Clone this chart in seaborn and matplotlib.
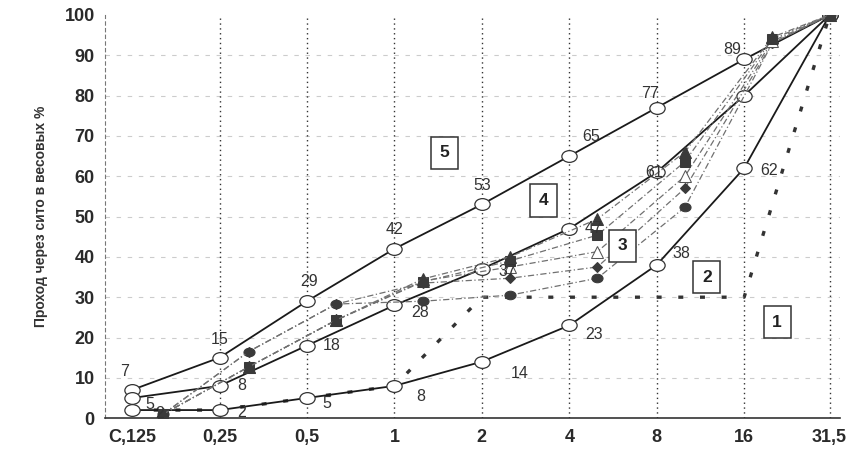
import matplotlib
matplotlib.use("Agg")

import matplotlib.pyplot as plt
from matplotlib.path import Path
from matplotlib.transforms import Affine2D
import seaborn as sns
import pandas as pd

# -----------------------------
# DATA
# -----------------------------
sieve_std = [0.125, 0.25, 0.5, 1, 2, 4, 8, 16, 31.5]
tick_labels = ["C,125", "0,25", "0,5", "1", "2", "4", "8", "16", "31,5"]

curve_upper = [7, 15, 29, 42, 53, 65, 77, 89, 100]
curve_middle = [5, 8, 18, 28, 37, 47, 61, 80, 100]
curve_lower = [2, 2, 5, 8, 14, 23, 38, 62, 100]
curve_one = [2, 2, 5, 8, 30, 30, 30, 30, 100]

sieve_exp = [0.16, 0.315, 0.63, 1.25, 2.5, 5, 10, 20, 31.5]
exp_circle = [1, 16.5, 28.3, 29, 30.5, 34.7, 52.3, 93, 100]
exp_diamond = [1, 16.5, 28.3, 33.5, 34.7, 37.5, 57, 93, 100]
exp_open_tri = [1, 12.7, 24.3, 34, 37.5, 41.3, 60, 93.5, 100]
exp_square = [1, 12.7, 24.3, 33.8, 39, 45.4, 63.6, 94, 100]
exp_tri = [1, 12.7, 24.3, 34.5, 40, 49.4, 66, 94.5, 100]

zone_labels = ["5", "4", "3", "2", "1"]
zone_x = [1.49, 3.25, 6.1, 11.9, 20.8]
zone_y = [65.8, 54, 42.7, 35, 23.8]

ylabel = "Проход через сито в весовых %"

# -----------------------------
# PLOT
# -----------------------------
sns.set_style("white")
plt.rcParams["font.family"] = ["Liberation Sans", "DejaVu Sans"]

# slightly flattened circle, like the scanned markers
ellipse = Path.unit_circle().transformed(Affine2D().scale(1.3, 1.0))

fig = plt.figure(figsize=(8.55, 4.54), dpi=100)
ax = fig.add_axes([0.123, 0.079, 0.859, 0.888])

# curve 1 (thick dashes)
df1 = pd.DataFrame({"x": sieve_std, "y": curve_one})
sns.lineplot(data=df1, x="x", y="y", ax=ax, color="#333333", lw=2.4,
             linestyle=(0, (1.5, 5)), zorder=2)

# envelope curves
for vals in [curve_upper, curve_middle, curve_lower]:
    df = pd.DataFrame({"x": sieve_std, "y": vals})
    sns.lineplot(data=df, x="x", y="y", ax=ax, color="#1a1a1a", lw=1.3,
                 marker=ellipse, markersize=11, markerfacecolor="white",
                 markeredgecolor="#333333", markeredgewidth=0.9, zorder=4)

# experimental curves (thin dash-dot), drawn over the envelopes
exp_series = [
    (exp_circle, ellipse, 8, "#3a3a3a", "#3a3a3a"),
    (exp_diamond, "D", 5.5, "#3a3a3a", "#3a3a3a"),
    (exp_open_tri, "^", 8, "white", "#555555"),
    (exp_square, "s", 7.5, "#3a3a3a", "#3a3a3a"),
    (exp_tri, "^", 8, "#3a3a3a", "#3a3a3a"),
]
for vals, mk, ms, fc, ec in exp_series:
    df = pd.DataFrame({"x": sieve_exp, "y": vals})
    sns.lineplot(data=df, x="x", y="y", ax=ax, color="#707070", lw=0.9,
                 linestyle=(0, (5, 2, 1, 2)), marker=mk, markersize=ms,
                 markerfacecolor=fc, markeredgecolor=ec, zorder=5)

# point labels (offsets in pixels)
upper_off = [(-7, 18), (0, 18), (2, 20), (0, 19), (0, 19), (22, 20), (-7, 14), (-12, 10)]
middle_off = [(18, -7), (22, 0), (25, 0), (26, -7), (26, -3), (24, 0), (-3, 0)]
lower_off = [(28, -3), (22, -2), (20, -6), (26, -11), (38, -12), (25, -9), (25, 11), (25, -2)]
for vals, offs in [(curve_upper, upper_off), (curve_middle, middle_off), (curve_lower, lower_off)]:
    for x, y, off in zip(sieve_std, vals, offs):
        ax.annotate(str(y), (x, y), xytext=off, textcoords="offset pixels",
                    ha="center", va="center", fontsize=11.5, color="#333333", zorder=6)

# zone boxes
for t, x, y in zip(zone_labels, zone_x, zone_y):
    ax.text(x, y, t, ha="center", va="center", fontsize=12.5, fontweight="bold",
            color="#222222", zorder=7,
            bbox=dict(boxstyle="square,pad=0.5", fc="white", ec="#333333", lw=1.1))

ax.set_xscale("log", base=2)
ax.set_xlim(0.101, 34.1)
ax.set_ylim(0, 100)
ax.set_xticks(sieve_std)
ax.set_xticklabels(tick_labels)
ax.minorticks_off()
ax.set_yticks(range(0, 101, 10))
ax.tick_params(axis="both", labelsize=13, length=4, width=0.8, colors="#333333")
for lab in ax.get_xticklabels() + ax.get_yticklabels():
    lab.set_fontweight("bold")
    lab.set_color("#2a2a2a")

# grid
for x in sieve_std[1:]:
    ax.axvline(x, color="#333333", lw=1.0, linestyle=(0, (1, 2.5)), zorder=1)
for y in range(10, 100, 10):
    ax.axhline(y, color="#cccccc", lw=0.8, linestyle=(0, (4, 6)), zorder=0)

ax.spines["top"].set_visible(False)
ax.spines["right"].set_visible(False)
ax.spines["left"].set_color("#777777")
ax.spines["left"].set_linestyle((0, (3, 3)))
ax.spines["bottom"].set_color("#333333")
ax.spines["bottom"].set_linewidth(1.2)

ax.set_xlabel("")
ax.set_ylabel(ylabel, fontsize=10, fontweight="bold", color="#333333", labelpad=12)

fig.savefig("out.png", dpi=100)
plt.close(fig)
